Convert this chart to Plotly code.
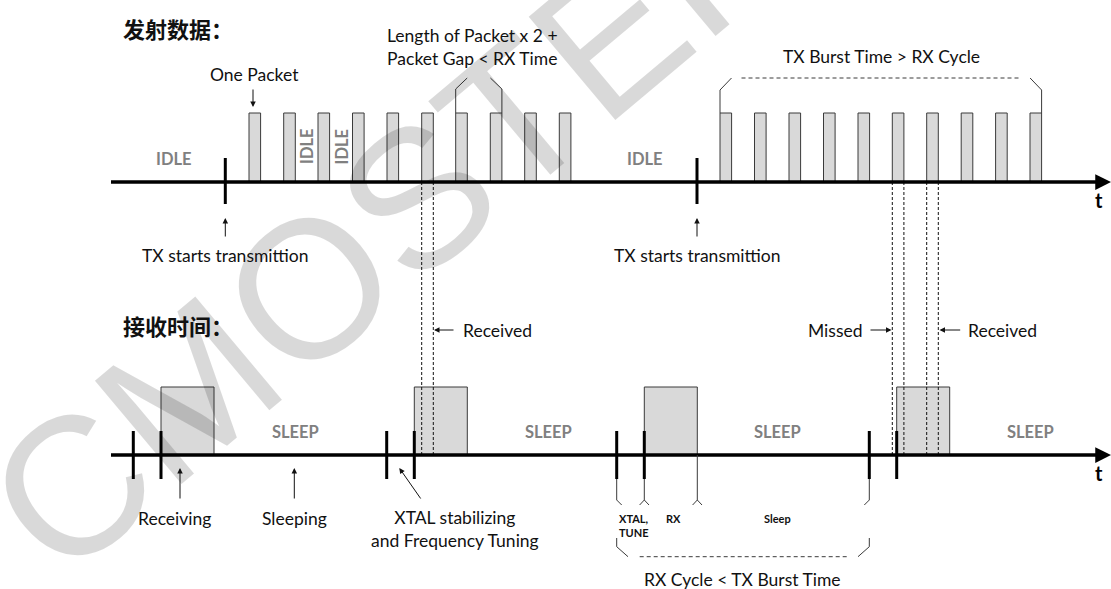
import plotly.graph_objects as go

# timing diagram, everything in the picture's own pixel units
W, H = 1111, 589

# transmitter side
tx_axis_y = 182
burst1_starts = [249, 283.7, 318, 352.5, 387, 421.7, 455.7, 490.3, 524.7, 559.3]
burst2_starts = [720, 754.5, 789, 823.5, 858, 892.3, 926.7, 961.2, 995.6, 1030]
packet_w = 11.6
packet_top = 113
tx_start_x = [225.3, 697]
idle_x = [174, 645]
idle_gap_x = [306.5, 341]

# receiver side
rx_axis_y = 455
rx_ticks = [133.3, 161, 386.7, 414.3, 616.7, 644.3, 869.3, 896.7]
rx_on = [161, 414.3, 644.3, 896.7]
rx_w = 53
rx_top = 387
sleep_x = [295, 548, 777, 1030]

# dashed guides: edges of the packets that line up with rx windows
guide_x = [421.7, 433.3, 892.3, 903.9, 926.7, 938.3]

TEXT = "Lato"
TS = 17.5
INK = "#111111"
EDGE = "#3a3a3a"
FILL = "#d9d9d9"
GREY = "#808080"

fig = go.Figure()


def line(xs, ys, width=1, color=EDGE, dash=None):
    fig.add_trace(go.Scatter(x=xs, y=ys, mode="lines", hoverinfo="skip",
                             line=dict(color=color, width=width, dash=dash)))


def label(x, y, text, size=TS, color=INK, bold=False, angle=0, xanchor="center", align="center", font=TEXT):
    if bold:
        text = "<b>" + text + "</b>"
    fig.add_annotation(x=x, y=y, text=text, showarrow=False, textangle=angle,
                       xanchor=xanchor, yanchor="middle", align=align,
                       font=dict(family=font, size=size, color=color))


def arrow(x0, y0, x1, y1, width=1, head=2, size=1.1, color=INK):
    fig.add_annotation(x=x1, y=y1, ax=x0, ay=y0, axref="x", ayref="y", text="",
                       showarrow=True, arrowhead=head, arrowsize=size,
                       arrowwidth=width, arrowcolor=color, standoff=0)


# watermark first so all other annotations sit on top of it
fig.add_annotation(x=388, y=222, text="CMOSTEK", showarrow=False, textangle=-40,
                   font=dict(family="Liberation Sans", size=196, color="rgba(0,0,0,0.15)"))

# packets
for s in burst1_starts + burst2_starts:
    fig.add_shape(type="rect", x0=s, x1=s + packet_w, y0=tx_axis_y, y1=packet_top,
                  line=dict(color=EDGE, width=1), fillcolor=FILL, layer="below")

# rx windows
for s in rx_on:
    fig.add_shape(type="rect", x0=s, x1=s + rx_w, y0=rx_axis_y, y1=rx_top,
                  line=dict(color=EDGE, width=1), fillcolor=FILL, layer="below")

# dashed guides from tx axis down to rx axis
for gx in guide_x:
    line([gx, gx], [tx_axis_y, rx_axis_y], width=1, color=INK, dash="3px,2px")

# time axes with arrow heads
for ay in [tx_axis_y, rx_axis_y]:
    line([111, 1104], [ay, ay], width=3.5, color="#000000")
    arrow(1100, ay, 1111, ay, width=3.5, head=2, size=0.9, color="#000000")
    label(1099, ay + 18, "t", size=20, bold=True, color="#000000")

# tx start markers
for tx in tx_start_x:
    line([tx, tx], [158, 204], width=3, color="#000000")
    arrow(tx, 238, tx, 218)
    label(tx, 255, "TX starts transmittion")

# rx cycle markers
for rt in rx_ticks:
    line([rt, rt], [431, 479], width=3, color="#000000")

# idle / sleep labels
for ix in idle_x:
    label(ix, 158.5, "IDLE", size=16.5, bold=True, color=GREY)
for ix in idle_gap_x:
    label(ix, 146.5, "IDLE", size=16.5, bold=True, color=GREY, angle=-90)
for sx in sleep_x:
    label(sx, 432, "SLEEP", size=16.5, bold=True, color=GREY)

# section titles
label(121, 28, "发射数据：", size=22, bold=True, xanchor="left", font="Noto Sans CJK SC")
label(121, 325, "接收时间：", size=22, bold=True, xanchor="left", font="Noto Sans CJK SC")

# one packet callout
label(254, 74, "One Packet")
arrow(253, 88, 253, 107)

# bracket over two packets
b0 = burst1_starts[6]
b1 = burst1_starts[7] + packet_w
line([b0, b0, b0 + 11.5], [packet_top, 89, 78])
line([b1, b1, b1 - 11.5], [packet_top, 89, 78])
label(472, 46.5, "Length of Packet x 2 +<br>Packet Gap < RX Time")

# bracket over the whole second burst
c0 = burst2_starts[0]
c1 = burst2_starts[-1] + packet_w
line([c0, c0, c0 + 11.5], [packet_top, 90, 78])
line([c0 + 21.5, c1 - 21.5], [78, 78], dash="4px,3px")
line([c1, c1, c1 - 11.5], [packet_top, 90, 78])
label(881, 56, "TX Burst Time > RX Cycle")

# received / missed callouts
arrow(455, 330, 434, 330)
label(461, 330, "Received", xanchor="left")
arrow(869, 330, 891.5, 330)
label(835, 330, "Missed")
arrow(961.7, 330, 939.5, 330)
label(966, 330, "Received", xanchor="left")

# callouts below rx axis
arrow(180, 500, 180, 468)
label(174, 518, "Receiving")
arrow(294.3, 500, 294.3, 468)
label(294.5, 518, "Sleeping")
arrow(421.7, 500, 399.3, 468)
label(455, 529, "XTAL stabilizing<br>and Frequency Tuning")

# rx cycle breakdown
t0, t1, t2, t3 = rx_ticks[4], rx_ticks[5], rx_ticks[5] + rx_w, rx_ticks[6]
line([t0, t0, t0 + 5], [479, 500, 505])
line([t1, t1], [479, 500])
line([t1 - 4.7, t1, t1 + 4.7], [505, 500, 505])
line([t2, t2], [rx_axis_y, 500])
line([t2 - 4.7, t2, t2 + 4.7], [505, 500, 505])
line([t3, t3, t3 - 5], [479, 500, 505])
label(617, 525.5, "XTAL,<br>TUNE", size=11, bold=True, xanchor="left", align="left")
label(673, 518, "RX", size=11, bold=True)
label(777, 518, "Sleep", size=11, bold=True)

line([t0, t0, t0 + 11.3], [538, 546.7, 556.7])
line([t0 + 23, t3 - 22.5], [556.7, 556.7], dash="4px,3px")
line([t3, t3, t3 - 11.3], [538, 546.7, 556.7])
label(742.5, 579, "RX Cycle < TX Burst Time")

fig.update_xaxes(range=[0, W], visible=False, fixedrange=True)
fig.update_yaxes(range=[H, 0], visible=False, fixedrange=True)
fig.update_layout(width=W, height=H, margin=dict(l=0, r=0, t=0, b=0),
                  plot_bgcolor="white", paper_bgcolor="white", showlegend=False)

# page body has a default 8px margin; drop it so the figure sits at 0,0
fig.write_html("out.html", config={"displayModeBar": False},
               post_script="document.body.style.margin='0';document.body.style.overflow='hidden';")
